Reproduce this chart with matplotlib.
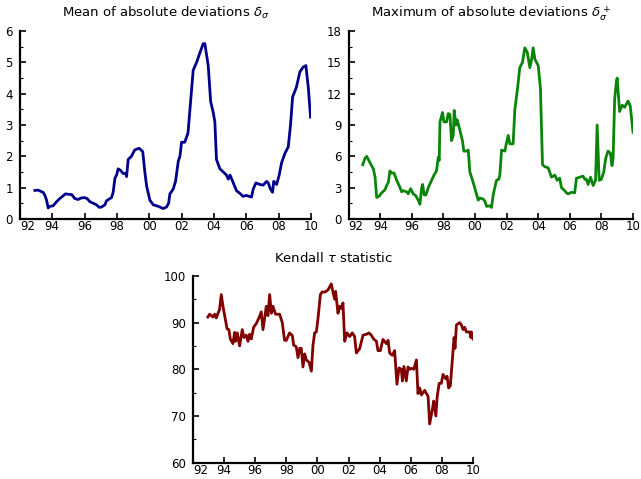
import numpy as np
import matplotlib
matplotlib.use("Agg")
import matplotlib.pyplot as plt

# Mean of absolute deviations (time in decimal years, value)
mean_t = [1992.93, 1993.13, 1993.34, 1993.44, 1993.55, 1993.65, 1993.75, 1993.86, 1994.06, 1994.27,
          1994.47, 1994.68, 1994.82, 1995.09, 1995.2, 1995.4, 1995.6, 1995.8, 1996.0, 1996.16,
          1996.33, 1996.54, 1996.74, 1996.9, 1997.05, 1997.26, 1997.36, 1997.57, 1997.67, 1997.77,
          1997.88, 1997.98, 1998.08, 1998.23, 1998.39, 1998.56, 1998.6, 1998.7, 1998.9, 1999.1,
          1999.32, 1999.4, 1999.6, 1999.73, 1999.84, 2000.04, 2000.25, 2000.45, 2000.66, 2000.87,
          2001.07, 2001.2, 2001.28, 2001.48, 2001.63, 2001.8, 2001.9, 2002.0, 2002.2, 2002.4,
          2002.52, 2002.72, 2002.93, 2003.13, 2003.34, 2003.44, 2003.65, 2003.8, 2003.96, 2004.06,
          2004.16, 2004.37, 2004.58, 2004.78, 2004.89, 2005.0, 2005.2, 2005.4, 2005.6, 2005.8,
          2006.0, 2006.33, 2006.43, 2006.6, 2006.85, 2007.05, 2007.26, 2007.36, 2007.5, 2007.63,
          2007.7, 2007.88, 2008.04, 2008.19, 2008.4, 2008.6, 2008.74, 2008.87, 2009.1, 2009.32,
          2009.52, 2009.69, 2009.84, 2009.98]
mean_v = [0.91, 0.92, 0.87, 0.85, 0.75, 0.6, 0.35, 0.4, 0.42, 0.55,
          0.65, 0.74, 0.8, 0.78, 0.78, 0.65, 0.62, 0.67, 0.68, 0.65,
          0.55, 0.5, 0.45, 0.37, 0.38, 0.45, 0.58, 0.65, 0.68, 0.85,
          1.3, 1.4, 1.6, 1.55, 1.45, 1.45, 1.35, 1.9, 2.0, 2.2,
          2.25, 2.25, 2.15, 1.5, 1.05, 0.6, 0.45, 0.42, 0.38, 0.33,
          0.38, 0.5, 0.8, 0.95, 1.2, 1.85, 2.0, 2.45, 2.45, 2.75,
          3.5, 4.75, 5.0, 5.3, 5.6, 5.6, 4.9, 3.75, 3.4, 3.1,
          1.9, 1.6, 1.5, 1.4, 1.27, 1.4, 1.15, 0.9, 0.82, 0.72,
          0.75, 0.7, 0.95, 1.15, 1.1, 1.08, 1.2, 1.15, 0.95, 0.85,
          1.2, 1.1, 1.4, 1.8, 2.1, 2.3, 3.0, 3.9, 4.2, 4.7,
          4.85, 4.9, 4.2, 3.25]

# Maximum of absolute deviations
max_t = [1992.89, 1993.03, 1993.14, 1993.31, 1993.45, 1993.56, 1993.67, 1993.77, 1993.94, 1994.09,
         1994.3, 1994.4, 1994.51, 1994.61, 1994.72, 1994.87, 1995.04, 1995.25, 1995.35, 1995.46,
         1995.67, 1995.77, 1995.92, 1996.09, 1996.26, 1996.4, 1996.51, 1996.62, 1996.68, 1996.78,
         1996.89, 1997.04, 1997.25, 1997.4, 1997.56, 1997.67, 1997.73, 1997.78, 1997.94, 1998.03,
         1998.2, 1998.3, 1998.41, 1998.51, 1998.62, 1998.68, 1998.79, 1998.87, 1999.04, 1999.2,
         1999.29, 1999.46, 1999.57, 1999.67, 1999.88, 2000.05, 2000.2, 2000.3, 2000.52, 2000.62,
         2000.73, 2000.94, 2001.04, 2001.15, 2001.25, 2001.36, 2001.5, 2001.57, 2001.68, 2001.89,
         2001.99, 2002.1, 2002.2, 2002.41, 2002.52, 2002.69, 2002.83, 2003.0, 2003.15, 2003.3,
         2003.47, 2003.57, 2003.68, 2003.79, 2004.0, 2004.14, 2004.27, 2004.42, 2004.63, 2004.84,
         2005.05, 2005.2, 2005.36, 2005.47, 2005.68, 2005.79, 2005.89, 2006.1, 2006.31, 2006.42,
         2006.63, 2006.84, 2006.95, 2007.05, 2007.16, 2007.31, 2007.48, 2007.63, 2007.73, 2007.86,
         2008.0, 2008.15, 2008.27, 2008.42, 2008.57, 2008.67, 2008.74, 2008.84, 2008.95, 2009.0,
         2009.15, 2009.32, 2009.47, 2009.69, 2009.83, 2010.0]
max_v = [5.2, 5.8, 6.0, 5.5, 5.1, 4.8, 4.0, 2.05, 2.2, 2.5,
         2.8, 3.2, 3.5, 4.6, 4.4, 4.4, 3.7, 3.0, 2.6, 2.7,
         2.6, 2.4, 2.9, 2.4, 2.2, 1.8, 1.4, 3.0, 3.3, 2.3,
         2.3, 3.0, 3.7, 4.2, 4.6, 5.9, 5.6, 9.3, 10.2, 9.3,
         9.3, 10.1, 10.0, 7.5, 8.0, 10.4, 9.0, 9.5, 8.5, 7.5,
         6.5, 6.5, 6.6, 4.5, 3.5, 2.6, 1.8, 2.0, 1.9, 1.7,
         1.2, 1.25, 1.1, 2.3, 3.0, 3.7, 3.8, 4.2, 6.6, 6.5,
         7.3, 8.0, 7.2, 7.2, 10.5, 12.5, 14.5, 15.0, 16.4, 16.0,
         14.5, 15.2, 16.4, 15.3, 14.7, 12.5, 5.2, 5.0, 4.9, 4.0,
         4.2, 3.7, 3.9, 3.0, 2.7, 2.5, 2.4, 2.55, 2.5, 3.9,
         4.0, 4.1, 3.8, 3.8, 3.3, 4.0, 3.2, 3.7, 9.0, 3.7,
         3.8, 4.5, 5.8, 6.5, 6.3, 5.1, 5.8, 11.5, 13.2, 13.5,
         10.3, 10.9, 10.7, 11.3, 10.8, 8.3]

# Kendall tau statistic
tau_t = [1992.96, 1993.07, 1993.18, 1993.29, 1993.39, 1993.5, 1993.61, 1993.71, 1993.82, 1993.93,
         1994.04, 1994.19, 1994.31, 1994.4, 1994.57, 1994.68, 1994.74, 1994.85, 1995.0, 1995.17,
         1995.28, 1995.43, 1995.54, 1995.64, 1995.75, 1995.9, 1996.07, 1996.24, 1996.39, 1996.5,
         1996.61, 1996.71, 1996.82, 1996.93, 1997.04, 1997.14, 1997.31, 1997.57, 1997.74, 1997.89,
         1998.0, 1998.21, 1998.39, 1998.47, 1998.64, 1998.75, 1998.86, 1998.96, 1999.07, 1999.18,
         1999.29, 1999.46, 1999.61, 1999.71, 1999.82, 1999.93, 2000.04, 2000.19, 2000.31, 2000.46,
         2000.68, 2000.89, 2001.0, 2001.11, 2001.17, 2001.32, 2001.43, 2001.54, 2001.64, 2001.75,
         2001.9, 2002.07, 2002.24, 2002.39, 2002.5, 2002.71, 2002.93, 2003.14, 2003.31, 2003.46,
         2003.61, 2003.79, 2003.89, 2004.04, 2004.21, 2004.43, 2004.54, 2004.64, 2004.81, 2004.96,
         2005.11, 2005.24, 2005.39, 2005.46, 2005.56, 2005.71, 2005.82, 2005.93, 2006.04, 2006.19,
         2006.36, 2006.46, 2006.57, 2006.68, 2006.89, 2007.11, 2007.21, 2007.39, 2007.47, 2007.61,
         2007.69, 2007.82, 2007.96, 2008.07, 2008.24, 2008.33, 2008.43, 2008.54, 2008.67, 2008.78,
         2008.84, 2008.93, 2009.14, 2009.25, 2009.36, 2009.46, 2009.57, 2009.79, 2009.86, 2009.89,
         2010.0]
tau_v = [91.2, 91.8, 91.5, 91.2, 91.8, 91.0, 92.0, 92.8, 96.0, 93.5,
         91.5, 88.7, 88.5, 86.5, 85.5, 87.9, 86.0, 87.8, 85.0, 88.5,
         86.8, 87.3, 86.0, 87.5, 86.5, 89.0, 89.8, 91.0, 92.3, 88.5,
         91.0, 93.5, 91.5, 96.0, 92.0, 93.5, 91.8, 91.8, 90.0, 86.2,
         86.2, 87.8, 87.2, 85.2, 84.8, 82.5, 84.5, 84.5, 80.5, 83.3,
         82.0, 81.5, 79.6, 85.0, 87.8, 88.0, 91.0, 96.0, 96.6, 96.5,
         97.0, 98.3, 96.5, 95.0, 96.7, 92.0, 93.5, 93.0, 94.2, 86.0,
         87.8, 87.0, 87.8, 87.0, 83.5, 84.4, 87.3, 87.5, 87.8, 87.3,
         86.5, 86.0, 84.0, 84.0, 86.4, 85.5, 86.2, 83.5, 83.0, 84.0,
         76.8, 80.3, 80.0, 77.5, 80.6, 77.5, 80.5, 80.0, 80.2, 80.0,
         82.0, 74.8, 76.0, 74.5, 75.5, 74.2, 68.3, 71.5, 73.2, 70.0,
         74.0, 77.0, 77.0, 78.9, 78.0, 78.5, 76.0, 76.5, 82.0, 86.8,
         84.5, 89.5, 90.0, 89.5, 88.5, 89.0, 88.0, 88.0, 86.8, 88.0,
         86.5]

year_ticks = [1992, 1994, 1996, 1998, 2000, 2002, 2004, 2006, 2008, 2010]
year_labels = ["92", "94", "96", "98", "00", "02", "04", "06", "08", "10"]

fig = plt.figure(figsize=(6.41, 4.79), dpi=100)
fig.patch.set_facecolor("white")


def style_axis(ax, ylim, yticks, title):
    ax.set_xlim(1992, 2010)
    ax.set_ylim(*ylim)
    ax.set_xticks(year_ticks)
    ax.set_xticklabels(year_labels)
    ax.set_yticks(yticks)
    ax.set_yticks([(a + b) / 2 for a, b in zip(yticks[:-1], yticks[1:])], minor=True)
    for side in ("top", "right"):
        ax.spines[side].set_visible(False)
    for side in ("left", "bottom"):
        ax.spines[side].set_linewidth(1.6)
    ax.tick_params(axis="both", which="major", direction="in", length=4, width=1.2,
                   labelsize=8.5)
    ax.tick_params(axis="x", which="major", pad=1)
    ax.tick_params(axis="y", which="major", pad=5)
    ax.tick_params(axis="y", which="minor", direction="in", length=2.5, width=0.8)
    ax.tick_params(axis="x", which="minor", bottom=False)
    # first year label sits just right of the corner so it clears the y labels
    ax.get_xticklabels()[0].set_horizontalalignment("left")
    ax.set_title(title, fontsize=9.5, pad=10)


ax1 = fig.add_axes([0.031, 0.543, 0.454, 0.392])
ax1.plot(mean_t, mean_v, color="#00008c", lw=2.0)
style_axis(ax1, (0, 6), [0, 1, 2, 3, 4, 5, 6], r"Mean of absolute deviations $\delta_\sigma$")

ax2 = fig.add_axes([0.544, 0.543, 0.4435, 0.392])
ax2.plot(max_t, max_v, color="#0a850a", lw=2.0)
style_axis(ax2, (0, 18), [0, 3, 6, 9, 12, 15, 18], r"Maximum of absolute deviations $\delta_\sigma^+$")

ax3 = fig.add_axes([0.301, 0.034, 0.437, 0.390])
ax3.plot(tau_t, tau_v, color="#800000", lw=2.0)
style_axis(ax3, (60, 100), [60, 70, 80, 90, 100], r"Kendall $\tau$ statistic")

fig.savefig("out.png", dpi=100, facecolor="white")
